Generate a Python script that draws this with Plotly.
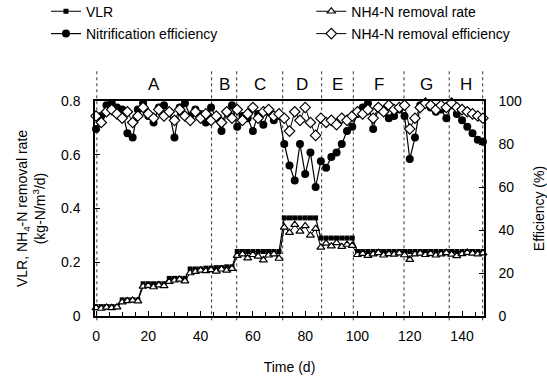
import plotly.graph_objects as go

days = list(range(0, 149, 2))

vlr = [0.035, 0.035, 0.035, 0.035, 0.035,
       0.06, 0.06, 0.06, 0.06,
       0.12, 0.12, 0.12, 0.12, 0.12,
       0.14, 0.14, 0.14, 0.14,
       0.175, 0.175, 0.175, 0.178, 0.178, 0.18, 0.18, 0.183, 0.183,
       0.24, 0.24, 0.24, 0.24, 0.24, 0.24, 0.24, 0.24, 0.24,
       0.365, 0.365, 0.365, 0.365, 0.365, 0.365, 0.365,
       0.29, 0.29, 0.29, 0.29, 0.29, 0.29, 0.29,
       0.24, 0.24, 0.24, 0.24, 0.24, 0.24, 0.24, 0.24, 0.24, 0.24,
       0.24, 0.24, 0.24, 0.24, 0.24, 0.24, 0.24, 0.24, 0.24, 0.24,
       0.24, 0.24, 0.24, 0.24, 0.24]

nh4_rate = [0.03, 0.028, 0.032, 0.03, 0.033,
            0.052, 0.056, 0.058, 0.055,
            0.11, 0.113, 0.108, 0.115, 0.112,
            0.128, 0.133, 0.136, 0.13,
            0.16, 0.165, 0.17, 0.168, 0.172, 0.166, 0.174, 0.17, 0.176,
            0.225, 0.23, 0.215, 0.228, 0.222, 0.208, 0.226, 0.23, 0.214,
            0.33, 0.31, 0.34, 0.315, 0.335, 0.30, 0.325,
            0.255, 0.27, 0.26, 0.272, 0.258, 0.266, 0.262,
            0.228, 0.232, 0.225, 0.23, 0.235, 0.226, 0.231, 0.229, 0.234, 0.227,
            0.21, 0.23, 0.233, 0.228, 0.232, 0.226, 0.23, 0.235, 0.229, 0.224,
            0.231, 0.236, 0.233, 0.23, 0.234]

nitrif_eff = [87, 93, 98, 99, 97, 96, 85, 83, 96, 99,
              93, 90, 97, 98, 95, 83, 97, 99, 93, 96,
              94, 90, 97, 92, 86, 95, 98, 88, 93, 92,
              86, 94, 89, 95, 91, 93, 80, 70, 63, 80,
              66, 76, 60, 72, 69, 74, 76, 80, 86, 88,
              94, 97, 99, 87, 97, 96, 92, 93, 96, 93,
              73, 83, 98, 99, 97, 95, 96, 92, 98, 94,
              91, 88, 85, 82, 81]

nh4_eff = [93, 90, 95, 96, 94, 92, 95, 90, 93, 97,
           94, 92, 96, 93, 95, 91, 96, 93, 91, 95,
           92, 94, 91, 93, 90, 95, 92, 96, 91, 94,
           97, 92, 95, 96, 93, 94, 92, 86, 95, 91,
           97, 90, 84, 92, 90, 91, 89, 92, 91, 93,
           95, 94, 96, 92, 97, 95, 98, 96, 97, 98,
           87, 92, 97, 99, 98, 96, 98, 97, 99, 97,
           96, 95, 94, 93, 92]

stage_bounds = [0.3, 44.2, 53.8, 71.4, 86.3, 98.4, 117.8, 135.1, 147.9]
stage_labels = ["A", "B", "C", "D", "E", "F", "G", "H"]

FONT = "Liberation Sans, Arial, sans-serif"

fig = go.Figure()

fig.add_trace(go.Scatter(
    x=days, y=vlr, name="VLR", mode="lines+markers",
    line=dict(color="black", width=1.2),
    marker=dict(symbol="square", size=5, color="black"),
    cliponaxis=False, legend="legend2"))
fig.add_trace(go.Scatter(
    x=days, y=nh4_rate, name="NH4-N removal rate", mode="lines+markers",
    line=dict(color="black", width=1),
    marker=dict(symbol="triangle-up", size=7, color="white",
                line=dict(color="black", width=1.2)),
    cliponaxis=False, legend="legend3"))
fig.add_trace(go.Scatter(
    x=days, y=nitrif_eff, name="Nitrification efficiency", mode="lines+markers",
    yaxis="y2", line=dict(color="black", width=1.2),
    marker=dict(symbol="circle", size=8, color="black"),
    cliponaxis=False, legend="legend4"))
fig.add_trace(go.Scatter(
    x=days, y=nh4_eff, name="NH4-N removal efficiency", mode="lines+markers",
    yaxis="y2", line=dict(color="black", width=1),
    marker=dict(symbol="diamond", size=8, color="white",
                line=dict(color="black", width=1.2)),
    cliponaxis=False, legend="legend5"))

shapes = []
for b in stage_bounds:
    shapes.append(dict(type="line", xref="x", yref="paper", x0=b, x1=b,
                       y0=-0.02, y1=1.15,
                       line=dict(color="#333333", width=1, dash="dot"),
                       layer="below"))

annotations = []
for i, lab in enumerate(stage_labels):
    annotations.append(dict(x=(stage_bounds[i] + stage_bounds[i + 1]) / 2,
                            y=1.075, xref="x", yref="paper", text=lab,
                            showarrow=False, yanchor="middle",
                            font=dict(family=FONT, size=17, color="black")))

def leg(x, y):
    return dict(x=x, y=y, xanchor="left", yanchor="top", orientation="v",
                font=dict(size=14), bgcolor="rgba(0,0,0,0)", itemwidth=30)

fig.update_layout(
    width=547, height=382,
    margin=dict(l=95, r=63, t=101, b=66, autoexpand=False),
    paper_bgcolor="white", plot_bgcolor="white",
    font=dict(family=FONT, size=14, color="black"),
    shapes=shapes, annotations=annotations,
    legend2=leg(-0.126, 1.49),
    legend3=leg(0.556, 1.49),
    legend4=leg(-0.126, 1.386),
    legend5=leg(0.556, 1.386),
    xaxis=dict(range=[-0.4, 148.4], tickvals=[0, 20, 40, 60, 80, 100, 120, 140],
               ticks="inside", ticklen=5, tickcolor="black",
               minor=dict(dtick=5, tick0=0, ticks="inside", ticklen=4, tickcolor="black"),
               showline=True, linecolor="black", linewidth=1.5, mirror=True,
               showgrid=False, zeroline=False, ticklabelstandoff=6,
               title=dict(text="Time (d)", standoff=20, font=dict(size=14)),
               tickfont=dict(size=14)),
    yaxis=dict(range=[0, 0.8], tickvals=[0, 0.2, 0.4, 0.6, 0.8],
               ticktext=["0", "0.2", "0.4", "0.6", "0.8"],
               ticks="inside", ticklen=5, tickcolor="black",
               showline=True, linecolor="black", linewidth=1.5,
               showgrid=False, zeroline=False, ticklabelstandoff=10,
               title=dict(text="VLR, NH<sub>4</sub>-N removal rate<br>(kg-N/m<sup>3</sup>/d)",
                          standoff=12, font=dict(size=14)),
               tickfont=dict(size=14)),
    yaxis2=dict(range=[0, 100], tickvals=[0, 20, 40, 60, 80, 100],
                overlaying="y", side="right",
                ticks="inside", ticklen=5, tickcolor="black",
                showline=True, linecolor="black", linewidth=1.5,
                showgrid=False, zeroline=False, ticklabelstandoff=10,
                title=dict(text="Efficiency (%)", standoff=18, font=dict(size=14)),
                tickfont=dict(size=14)),
)

fig.write_html("out.html")
